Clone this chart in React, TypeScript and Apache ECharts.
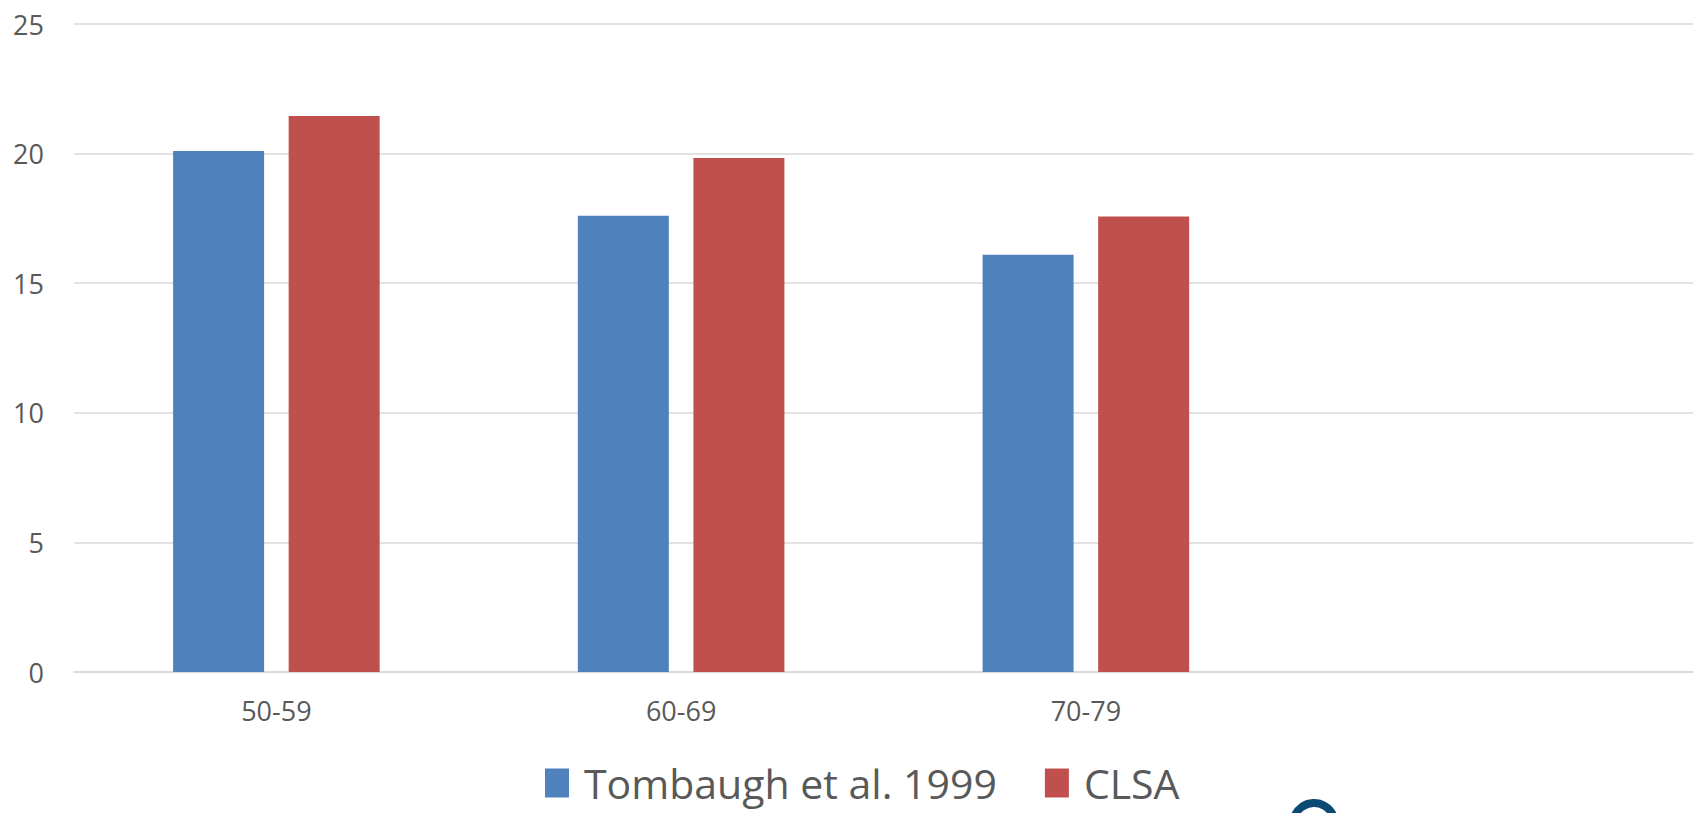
import React, { useEffect, useRef } from "react";
import * as echarts from "echarts";

const categories = ["50-59", "60-69", "70-79", ""];
const tombaugh = [20.1, 17.6, 16.1, null];
const clsa = [21.45, 19.83, 17.57, null];
const seriesNames = ["Tombaugh et al. 1999", "CLSA"];

export default function App() {
  const ref = useRef<HTMLDivElement>(null);
  useEffect(() => {
    document.body.style.margin = "0";
    const chart = echarts.init(ref.current!, null, { renderer: "svg" });
    chart.setOption({
      animation: false,
      backgroundColor: "#ffffff",
      grid: { left: 74, right: 5, top: 24, bottom: 141, containLabel: false },
      legend: {
        data: seriesNames,
        left: 540,
        top: 757,
        padding: 5,
        itemWidth: 24,
        itemHeight: 29,
        itemGap: 48,
        icon: "rect",
        textStyle: {
          fontFamily: "'Open Sans'",
          fontSize: 41,
          lineHeight: 42,
          color: "#595959",
          padding: [0, 0, 0, 10],
        },
      },
      xAxis: {
        type: "category",
        data: categories,
        axisLine: { show: true, lineStyle: { color: "#d9d9d9", width: 1.5 } },
        axisTick: { show: false },
        axisLabel: {
          color: "#595959",
          fontFamily: "'Open Sans'",
          fontSize: 27,
          margin: 25,
        },
      },
      yAxis: {
        type: "value",
        min: 0,
        max: 25,
        interval: 5,
        axisLine: { show: false },
        axisTick: { show: false },
        splitLine: { lineStyle: { color: "#d9d9d9", width: 1.5 } },
        axisLabel: {
          color: "#595959",
          fontFamily: "'Open Sans'",
          fontSize: 27,
          margin: 30,
        },
      },
      series: [
        {
          name: seriesNames[0],
          type: "bar",
          data: tombaugh,
          barWidth: 91,
          barGap: "27%",
          itemStyle: { color: "#4f81bd" },
        },
        {
          name: seriesNames[1],
          type: "bar",
          data: clsa,
          barWidth: 91,
          barGap: "27%",
          itemStyle: { color: "#c0504d" },
        },
      ],
      graphic: [
        {
          type: "arc",
          shape: { cx: 1314, cy: 824, r: 21, startAngle: Math.PI * 1.12, endAngle: Math.PI * 1.85 },
          style: { stroke: "#0b4a73", lineWidth: 8, fill: "none" },
        },
      ],
    });
    return () => chart.dispose();
  }, []);
  return <div ref={ref} style={{ width: 1698, height: 813, position: "absolute", left: 0, top: 0 }} />;
}
